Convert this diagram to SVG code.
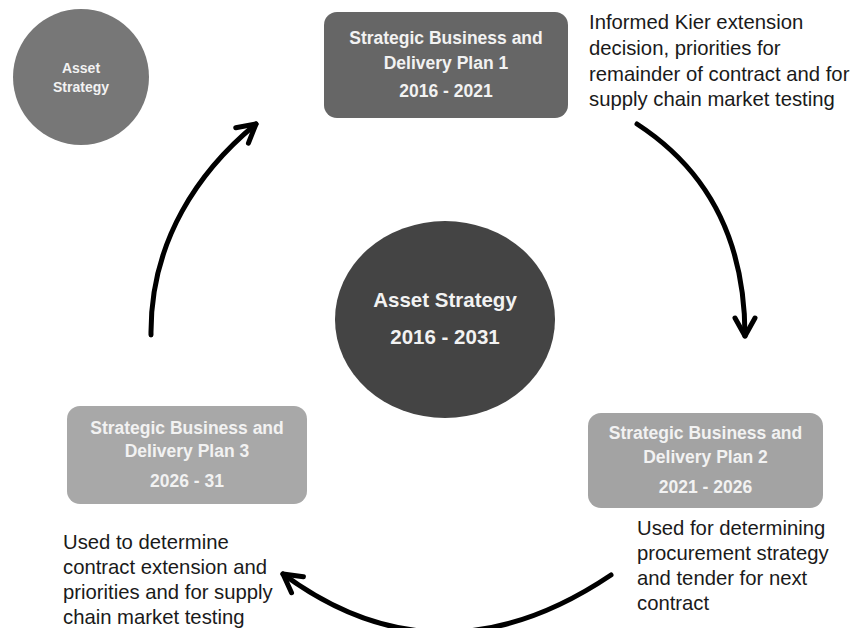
<svg xmlns="http://www.w3.org/2000/svg" width="858" height="628" viewBox="0 0 858 628">
<style>
.bx{font-family:"Liberation Sans",Arial,sans-serif;font-weight:bold;font-size:17.5px;fill:#f2f2f2;text-anchor:middle}
.lbl{font-family:"Liberation Sans",Arial,sans-serif;font-size:20.3px;fill:#1a1a1a}
.arr{fill:none;stroke:#000;stroke-width:5;stroke-linecap:round}
</style>
<defs>
<marker id="head" markerUnits="userSpaceOnUse" markerWidth="40" markerHeight="40" refX="0" refY="0" viewBox="-25 -20 40 40" orient="auto" overflow="visible">
<path d="M-18,-10 L0,0 L-18,10" fill="none" stroke="#000" stroke-width="5" stroke-linecap="round" stroke-linejoin="round"/>
</marker>
</defs>
<rect width="858" height="628" fill="#fff"/>
<g id="connectors">
<path class="arr" d="M637,124 C700,165 745,230 745,336" marker-end="url(#head)"/>
<path class="arr" d="M611,575 Q440,690 283,574" marker-end="url(#head)"/>
<path class="arr" d="M151,335 C150,240 200,170 256,124" marker-end="url(#head)"/>
</g>
<g id="legend-circle">
<circle cx="81" cy="77" r="68" fill="#777777"/>
<text class="bx" style="font-size:14px" x="81" y="73">Asset</text>
<text class="bx" style="font-size:14px" x="81" y="92">Strategy</text>
</g>
<g id="center">
<ellipse cx="445" cy="319.5" rx="110" ry="98.5" fill="#444444"/>
<text class="bx" style="font-size:20.5px" x="445" y="307">Asset Strategy</text>
<text class="bx" style="font-size:20.5px" x="445" y="344">2016 - 2031</text>
</g>
<g id="plan1">
<rect x="324" y="12" width="244" height="106" rx="13" fill="#666666"/>
<text class="bx" x="446" y="44">Strategic Business and</text>
<text class="bx" x="446" y="69">Delivery Plan 1</text>
<text class="bx" x="446" y="97">2016 - 2021</text>
</g>
<g id="plan2">
<rect x="588" y="413" width="235" height="95" rx="13" fill="#a3a3a3"/>
<text class="bx" x="705.5" y="439">Strategic Business and</text>
<text class="bx" x="705.5" y="463">Delivery Plan 2</text>
<text class="bx" x="705.5" y="493">2021 - 2026</text>
</g>
<g id="plan3">
<rect x="67" y="406" width="240" height="98" rx="13" fill="#a8a8a8"/>
<text class="bx" x="187" y="434">Strategic Business and</text>
<text class="bx" x="187" y="457">Delivery Plan 3</text>
<text class="bx" x="187" y="487">2026 - 31</text>
</g>
<g id="label1">
<text class="lbl" x="589" y="29">Informed Kier extension</text>
<text class="lbl" x="589" y="55">decision, priorities for</text>
<text class="lbl" x="589" y="81">remainder of contract and for</text>
<text class="lbl" x="589" y="106">supply chain market testing</text>
</g>
<g id="label2">
<text class="lbl" x="637" y="535">Used for determining</text>
<text class="lbl" x="637" y="560">procurement strategy</text>
<text class="lbl" x="637" y="585">and tender for next</text>
<text class="lbl" x="637" y="610">contract</text>
</g>
<g id="label3">
<text class="lbl" x="63" y="549">Used to determine</text>
<text class="lbl" x="63" y="574">contract extension and</text>
<text class="lbl" x="63" y="599">priorities and for supply</text>
<text class="lbl" x="63" y="624">chain market testing</text>
</g>
</svg>
